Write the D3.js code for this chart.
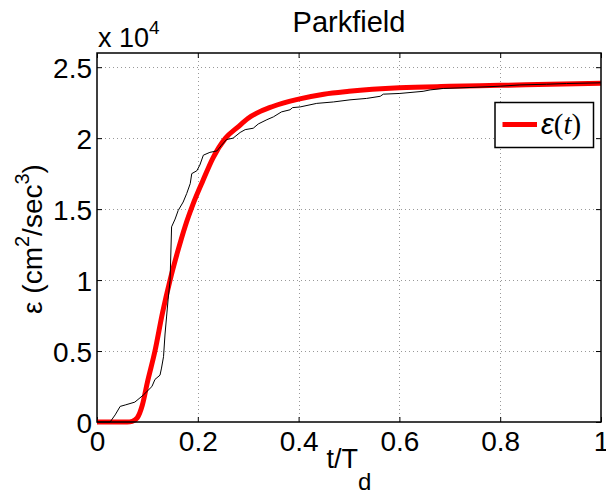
<!DOCTYPE html>
<html>
<head>
<meta charset="utf-8">
<script src="https://cdn.jsdelivr.net/npm/d3@7/dist/d3.min.js"></script>
<style>
  html, body { margin: 0; padding: 0; background: #fff; }
  svg { display: block; }
  text { font-family: "Liberation Sans", Arial, Helvetica, sans-serif; fill: #000; }
</style>
</head>
<body>
<svg id="chart" width="606" height="495"></svg>
<script>
// ---- data (values in units of 10^4 cm^2/sec^3) ----
const modelT = [0, 0.06, 0.07, 0.08, 0.09, 0.10, 0.115, 0.13, 0.145, 0.16, 0.175, 0.19, 0.21, 0.23, 0.255, 0.28, 0.30, 0.35, 0.40, 0.45, 0.50, 0.60, 0.70, 0.80, 0.90, 1.00];
const modelE = [0, 0, 0.005, 0.03, 0.12, 0.28, 0.50, 0.77, 1.0, 1.2, 1.38, 1.53, 1.70, 1.86, 2.0, 2.08, 2.14, 2.225, 2.275, 2.31, 2.33, 2.355, 2.365, 2.372, 2.38, 2.387];

const obsT = [0, 0.026, 0.036, 0.046, 0.056, 0.075, 0.092, 0.109, 0.115, 0.125, 0.128, 0.132, 0.135, 0.138, 0.141, 0.145, 0.148, 0.155, 0.161, 0.171, 0.178, 0.185, 0.188, 0.198, 0.204, 0.211, 0.224, 0.238, 0.247, 0.257, 0.270, 0.284, 0.294, 0.310, 0.320, 0.337, 0.350, 0.366, 0.383, 0.388, 0.403, 0.436, 0.469, 0.502, 0.535, 0.562, 0.568, 0.601, 0.647, 0.661, 0.687, 0.740, 0.800, 0.839, 0.892, 0.932, 1.0];
const obsE = [0, 0, 0.05, 0.11, 0.12, 0.14, 0.19, 0.25, 0.30, 0.33, 0.38, 0.46, 0.62, 0.74, 0.86, 1.0, 1.375, 1.43, 1.49, 1.55, 1.61, 1.68, 1.75, 1.77, 1.81, 1.88, 1.90, 1.91, 1.95, 1.99, 2.0, 2.04, 2.06, 2.07, 2.10, 2.13, 2.15, 2.185, 2.20, 2.215, 2.22, 2.245, 2.255, 2.27, 2.28, 2.295, 2.31, 2.315, 2.33, 2.34, 2.35, 2.357, 2.366, 2.375, 2.38, 2.385, 2.39];

const xTicks = [0, 0.2, 0.4, 0.6, 0.8, 1];
const xTickLabels = ["0", "0.2", "0.4", "0.6", "0.8", "1"];
const yTicks = [0, 0.5, 1, 1.5, 2, 2.5];
const yTickLabels = ["0", "0.5", "1", "1.5", "2", "2.5"];

const titleText = "Parkfield";

// ---- layout ----
const L = 97, R = 601, T = 53, B = 422;
const svg = d3.select("#chart");

const x = d3.scaleLinear().domain([0, 1]).range([L, R]);
const y = d3.scaleLinear().domain([0, 2.6]).range([B, T]);

// grid
const grid = svg.append("g").attr("stroke", "#999").attr("stroke-width", 1)
  .attr("stroke-dasharray", "1,3").attr("fill", "none");
xTicks.slice(1, -1).forEach(v => {
  grid.append("line").attr("x1", Math.round(x(v)) + 0.5).attr("x2", Math.round(x(v)) + 0.5)
    .attr("y1", T).attr("y2", B);
});
yTicks.slice(1).forEach(v => {
  grid.append("line").attr("y1", Math.round(y(v)) + 0.5).attr("y2", Math.round(y(v)) + 0.5)
    .attr("x1", L).attr("x2", R);
});

// axes (inward ticks, box)
const tickLen = 5;
const axB = d3.axisBottom(x).tickValues(xTicks).tickSize(-tickLen).tickFormat((d, i) => xTickLabels[i]).tickPadding(9);
const axT = d3.axisTop(x).tickValues(xTicks).tickSize(-tickLen).tickFormat("");
const axL = d3.axisLeft(y).tickValues(yTicks).tickSize(-tickLen).tickFormat((d, i) => yTickLabels[i]).tickPadding(5);
const axR = d3.axisRight(y).tickValues(yTicks).tickSize(-tickLen).tickFormat("");

function styleAxis(g) {
  g.select(".domain").remove();
  g.selectAll(".tick line").attr("stroke", "#000").attr("stroke-width", 1);
  g.selectAll("text").attr("font-size", 28).attr("font-family", '"Liberation Sans", Arial, sans-serif').attr("fill", "#000");
}
svg.append("g").attr("transform", `translate(0,${B})`).call(axB).call(styleAxis)
  .selectAll("text").attr("dy", "0.71em");
svg.append("g").attr("transform", `translate(0,${T})`).call(axT).call(styleAxis);
svg.append("g").attr("transform", `translate(${L},0)`).call(axL).call(styleAxis)
  .selectAll("text").attr("dy", "0.36em");
svg.append("g").attr("transform", `translate(${R},0)`).call(axR).call(styleAxis);

// data lines
const lineGen = d3.line().x(d => x(d[0])).y(d => y(d[1]));
const modelData = modelT.map((t, i) => [t, modelE[i]]);
const obsData = obsT.map((t, i) => [t, obsE[i]]);

svg.append("path").datum(modelData)
  .attr("d", d3.line().x(d => x(d[0])).y(d => y(d[1])).curve(d3.curveMonotoneX))
  .attr("fill", "none").attr("stroke", "#ff0000").attr("stroke-width", 5)
  .attr("stroke-linejoin", "round");

svg.append("path").datum(obsData)
  .attr("d", lineGen)
  .attr("fill", "none").attr("stroke", "#000").attr("stroke-width", 1);

// box frame
svg.append("rect").attr("x", L).attr("y", T).attr("width", R - L).attr("height", B - T)
  .attr("fill", "none").attr("stroke", "#000").attr("stroke-width", 1.5);

// title
svg.append("text").attr("x", 349).attr("y", 31.5).attr("text-anchor", "middle")
  .attr("font-size", 29).text(titleText);

// exponent label
const ex = svg.append("text").attr("x", 98).attr("y", 47).attr("font-size", 27);
ex.append("tspan").text("x 10");
ex.append("tspan").attr("font-size", 19).attr("dy", -13).text("4");

// x label
const xl = svg.append("text").attr("x", 349).attr("y", 468).attr("text-anchor", "middle").attr("font-size", 27);
xl.append("tspan").text("t/T");
xl.append("tspan").attr("font-size", 24).attr("dy", 22).text("d");

// y label
const yl = svg.append("text").attr("transform", "translate(42,239) rotate(-90)")
  .attr("text-anchor", "middle").attr("font-size", 28);
yl.append("tspan").text("ε (cm");
yl.append("tspan").attr("font-size", 20).attr("dy", -13).text("2");
yl.append("tspan").attr("dy", 13).text("/sec");
yl.append("tspan").attr("font-size", 20).attr("dy", -13).text("3");
yl.append("tspan").attr("dy", 13).text(")");

// legend
const lg = svg.append("g");
lg.append("rect").attr("x", 495).attr("y", 102.5).attr("width", 98.5).attr("height", 45)
  .attr("fill", "#fff").attr("stroke", "#000").attr("stroke-width", 1.5);
lg.append("line").attr("x1", 502.5).attr("x2", 537).attr("y1", 124.5).attr("y2", 124.5)
  .attr("stroke", "#ff0000").attr("stroke-width", 5);
const lt = lg.append("text").attr("x", 541).attr("y", 134).attr("font-size", 29)
  .attr("font-family", '"DejaVu Serif", "Liberation Serif", serif').attr("fill", "#222");
lt.append("tspan").attr("font-style", "italic").text("ε");
lt.append("tspan").attr("font-family", '"Liberation Serif", serif').text("(");
lt.append("tspan").attr("font-style", "italic").attr("font-family", '"Liberation Serif", serif').text("t");
lt.append("tspan").attr("font-family", '"Liberation Serif", serif').text(")");
</script>
</body>
</html>
